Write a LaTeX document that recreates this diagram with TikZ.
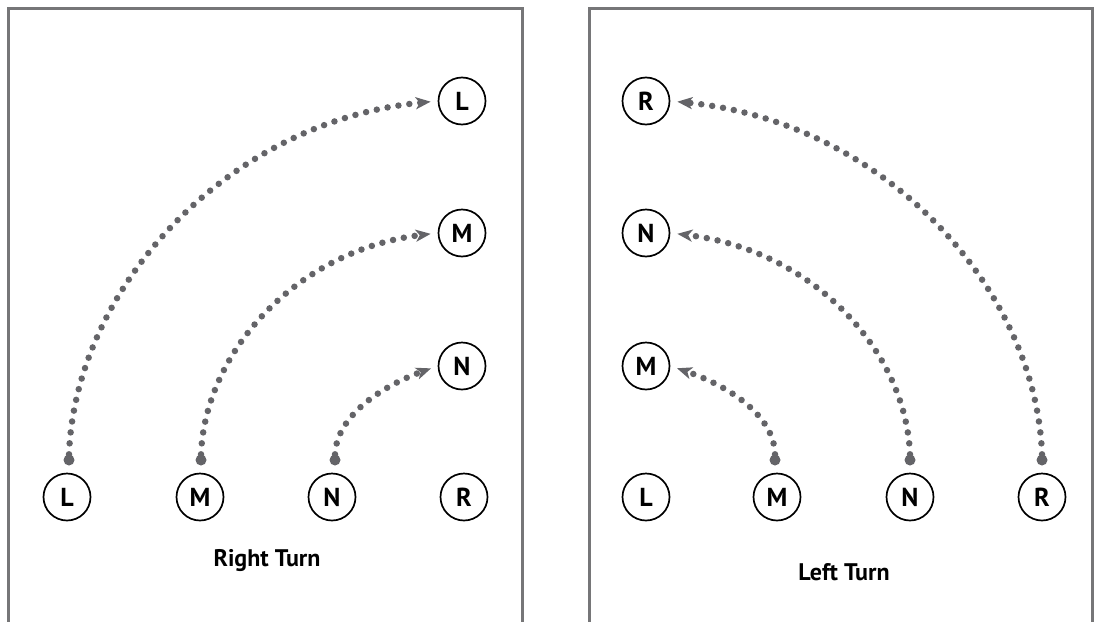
\documentclass[tikz,border=0pt]{standalone}
\usepackage{fontspec}
\setmainfont{PT Sans}
\usetikzlibrary{arrows.meta}
\definecolor{dotgray}{RGB}{100,100,104}
\definecolor{framegray}{RGB}{118,118,120}
\begin{document}
\begin{tikzpicture}[x=1pt,y=-1pt,
  player/.style={circle,draw=black,line width=1.7pt,minimum size=47pt,inner sep=0pt,font=\bfseries\fontsize{26}{26}\selectfont},
  startdot/.style={circle,fill=dotgray,minimum size=11pt,inner sep=0pt},
  route/.style={draw=dotgray,line width=6.5pt,line cap=round,dash pattern=on 0pt off 11pt,
    -{Stealth[length=15pt,width=12pt,inset=4pt]},shorten >=7pt},
  panel/.style={draw=framegray,line width=3pt},
  caption/.style={font=\bfseries\fontsize{24}{24}\selectfont}]
\useasboundingbox (0,0) rectangle (1099,621);
% panels
\draw[panel] (8,625) -- (8,8) -- (522,8) -- (522,625);
\draw[panel] (589,625) -- (589,8) -- (1092,8) -- (1092,625);
% ---- Right turn ----
\node[player] (rL) at (67,497) {L};
\node[player] (rM) at (200,497) {M};
\node[player] (rN) at (332,497) {N};
\node[player] (rR) at (464,497) {R};
\node[player] (rL2) at (462,101) {L};
\node[player] (rM2) at (462,233) {M};
\node[player] (rN2) at (462,366) {N};
\node[startdot] (sL) at (69,460) {};
\node[startdot] (sM) at (201,460) {};
\node[startdot] (sN) at (335,460) {};
\draw[route] (sL.north) .. controls (75,290) and (225,122) .. (rL2.west);
\draw[route] (sM.north) .. controls (205,351) and (298,250) .. (rM2.west);
\draw[route] (sN.north) .. controls (337,414) and (385,385) .. (rN2.west);
\node[caption] (capR) at (267,561) {Right Turn};
% ---- Left turn ----
\node[player] (lL) at (646,497) {L};
\node[player] (lM) at (777,497) {M};
\node[player] (lN) at (910,497) {N};
\node[player] (lR) at (1042,497) {R};
\node[player] (lR2) at (646,101) {R};
\node[player] (lN2) at (646,233) {N};
\node[player] (lM2) at (646,366) {M};
\node[startdot] (tM) at (775,460) {};
\node[startdot] (tN) at (910,460) {};
\node[startdot] (tR) at (1042,460) {};
\draw[route] (tR.north) .. controls (1036,290) and (886,122) .. (lR2.east);
\draw[route] (tN.north) .. controls (906,351) and (813,250) .. (lN2.east);
\draw[route] (tM.north) .. controls (774,414) and (726,385) .. (lM2.east);
\node[caption] (capL) at (844,572) {Left Turn};
\end{tikzpicture}
\end{document}
